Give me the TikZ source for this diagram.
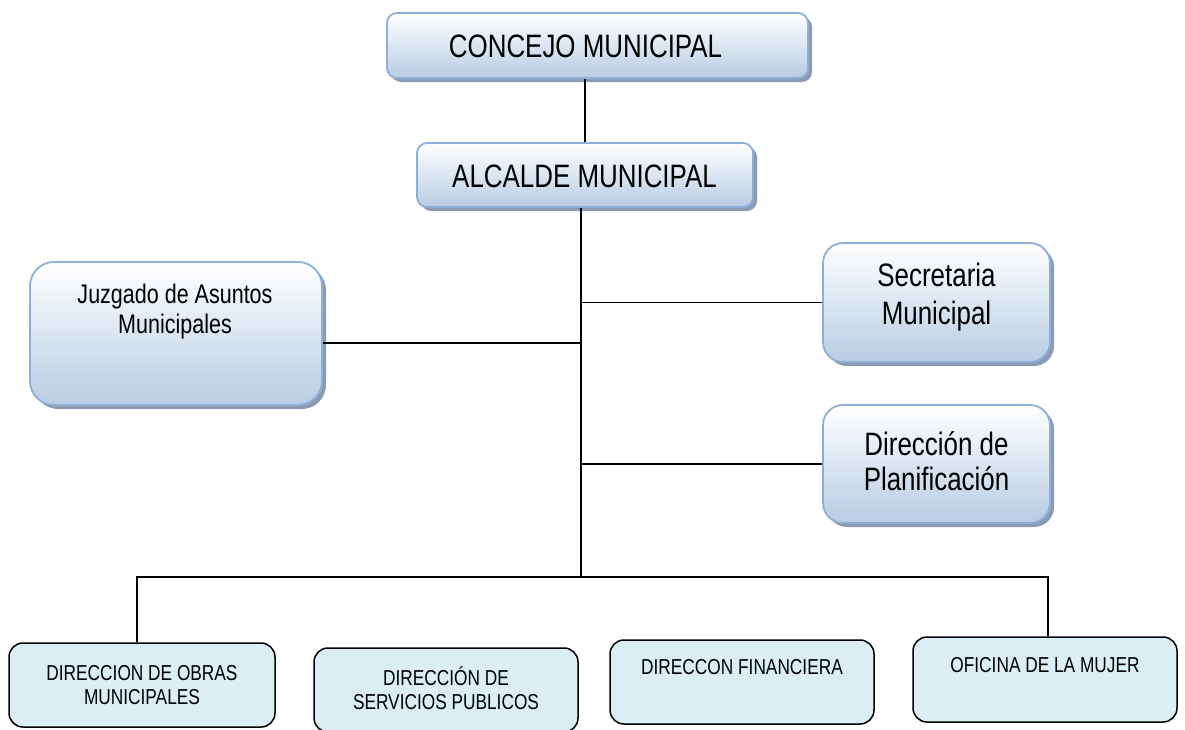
\documentclass[tikz,border=0pt]{standalone}
\usepackage{fontspec}
\newfontfamily\orgfont{Liberation Sans}[FakeStretch=0.8]
\usetikzlibrary{shadows}
\definecolor{boxborder}{RGB}{142,176,216}
\definecolor{boxbottom}{RGB}{184,204,228}
\definecolor{boxshadow}{RGB}{140,155,176}
\definecolor{lowfill}{RGB}{218,238,243}
\tikzset{
  topbox/.style={draw=boxborder, line width=1.8pt, rounded corners=#1,
    top color=white, bottom color=boxbottom,
    drop shadow={shadow xshift=4pt, shadow yshift=-4pt, fill=boxshadow, opacity=1},
    inner sep=0pt},
  lowbox/.style={draw=black, line width=1.5pt, fill=lowfill, rounded corners=14pt, inner sep=0pt},
  link/.style={draw=black, line width=1.8pt},
  bigtxt/.style={font=\orgfont\fontsize{32.4}{36}\selectfont, inner sep=0pt},
  midtxt/.style={font=\orgfont\fontsize{32.4}{#1}\selectfont, align=center, inner sep=0pt},
  juztxt/.style={font=\orgfont\fontsize{26.9}{30}\selectfont, align=center, inner sep=0pt},
  lowtxt/.style={font=\orgfont\fontsize{21.6}{24}\selectfont, align=center, inner sep=0pt}
}
\begin{document}
\begin{tikzpicture}[x=1pt,y=-1pt]
\useasboundingbox (0,0) rectangle (1185,729);
% top boxes
\node[topbox=10pt, minimum width=421pt, minimum height=65pt] (concejo) at (597.5,45.5) {};
\node[bigtxt] (concejoT) at (585.5,46) {CONCEJO MUNICIPAL};
\node[topbox=10pt, minimum width=336pt, minimum height=64pt] (alcalde) at (585,175) {};
\node[bigtxt] (alcaldeT) at (584.5,176) {ALCALDE MUNICIPAL};
\node[topbox=24pt, minimum width=292pt, minimum height=143pt] (juzgado) at (176,333.5) {};
\node[juztxt] (juzgadoT) at (175,312) {Juzgado de Asuntos\\Municipales};
\node[topbox=20pt, minimum width=227pt, minimum height=119pt] (secretaria) at (936.5,302.5) {};
\node[midtxt=38] (secretariaT) at (936.5,297) {Secretaria\\Municipal};
\node[topbox=20pt, minimum width=227pt, minimum height=118pt] (planif) at (936.5,464) {};
\node[midtxt=35] (planifT) at (936.5,461) {Dirección de\\Planificación};
% bottom boxes
\node[lowbox, minimum width=266pt, minimum height=84pt] (obras) at (142,685) {};
\node[lowtxt] (obrasT) at (142,685) {DIRECCION DE OBRAS\\MUNICIPALES};
\node[lowbox, minimum width=264pt, minimum height=84pt] (servicios) at (446,690) {};
\node[lowtxt] (serviciosT) at (446,688) {DIRECCIÓN DE\\SERVICIOS PUBLICOS};
\node[lowbox, minimum width=264pt, minimum height=84pt] (financiera) at (742,682) {};
\node[lowtxt] (financieraT) at (742,667) {DIRECCON FINANCIERA};
\node[lowbox, minimum width=264pt, minimum height=85pt] (mujer) at (1045,679.5) {};
\node[lowtxt] (mujerT) at (1045,665) {OFICINA DE LA MUJER};
% connectors
\coordinate (hub) at (581,577);
\draw[link] (alcalde.north) -- (alcalde.north |- concejo.south);
\draw[link] (alcalde.south -| hub) -- (hub);
\draw[link] (secretaria.west) -- (secretaria.west -| hub);
\draw[link] (planif.west) -- (planif.west -| hub);
\draw[link] ([yshift=-9.5pt]juzgado.east) -- ([yshift=-9.5pt]juzgado.east -| hub);
\draw[link] ([xshift=-5pt]obras.north) |- (hub) -| ([xshift=3pt]mujer.north);
\end{tikzpicture}
\end{document}
